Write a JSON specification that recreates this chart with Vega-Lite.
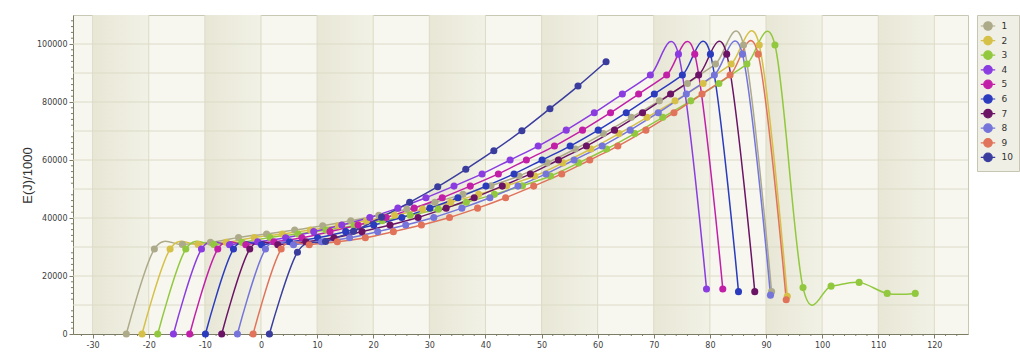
{
"$schema": "https://vega.github.io/schema/vega-lite/v6.json",
"width": 895, "height": 319,
"autosize": {"type": "none"},
"padding": {"left": 73, "top": 15, "right": 52, "bottom": 22},
"background": "#FFFFFF",
"config": {"view": {"stroke": "#C9C9B3", "fill": "#F7F7F0"}, "axis": {"labelOverlap": false}},
"datasets": {
"bands": [{"x":-30,"x2":-20},{"x":-10,"x2":0},{"x":10,"x2":20},{"x":30,"x2":40},{"x":50,"x2":60},{"x":70,"x2":80},{"x":90,"x2":100},{"x":110,"x2":120}],
"vgrid": [{"x":-30},{"x":-20},{"x":-10},{"x":0},{"x":10},{"x":20},{"x":30},{"x":40},{"x":50},{"x":60},{"x":70},{"x":80},{"x":90},{"x":100},{"x":110},{"x":120}],
"hgrid": [{"y":10000},{"y":20000},{"y":30000},{"y":40000},{"y":50000},{"y":60000},{"y":70000},{"y":80000},{"y":90000},{"y":100000}],
"xminor": [{"x":-32},{"x":-28},{"x":-26},{"x":-24},{"x":-22},{"x":-18},{"x":-16},{"x":-14},{"x":-12},{"x":-8},{"x":-6},{"x":-4},{"x":-2},{"x":2},{"x":4},{"x":6},{"x":8},{"x":12},{"x":14},{"x":16},{"x":18},{"x":22},{"x":24},{"x":26},{"x":28},{"x":32},{"x":34},{"x":36},{"x":38},{"x":42},{"x":44},{"x":46},{"x":48},{"x":52},{"x":54},{"x":56},{"x":58},{"x":62},{"x":64},{"x":66},{"x":68},{"x":72},{"x":74},{"x":76},{"x":78},{"x":82},{"x":84},{"x":86},{"x":88},{"x":92},{"x":94},{"x":96},{"x":98},{"x":102},{"x":104},{"x":106},{"x":108},{"x":112},{"x":114},{"x":116},{"x":118},{"x":122},{"x":124}],
"yminor": [{"y":2000},{"y":4000},{"y":6000},{"y":8000},{"y":12000},{"y":14000},{"y":16000},{"y":18000},{"y":22000},{"y":24000},{"y":26000},{"y":28000},{"y":32000},{"y":34000},{"y":36000},{"y":38000},{"y":42000},{"y":44000},{"y":46000},{"y":48000},{"y":52000},{"y":54000},{"y":56000},{"y":58000},{"y":62000},{"y":64000},{"y":66000},{"y":68000},{"y":72000},{"y":74000},{"y":76000},{"y":78000},{"y":82000},{"y":84000},{"y":86000},{"y":88000},{"y":92000},{"y":94000},{"y":96000},{"y":98000},{"y":102000},{"y":104000},{"y":106000},{"y":108000}],
"main": [
{"s":"1","x":-24,"y":0},{"s":"1","x":-19,"y":29300},{"s":"1","x":-14,"y":30900},{"s":"1","x":-9,"y":31600},{"s":"1","x":-4,"y":33300},{"s":"1","x":1,"y":34500},{"s":"1","x":6,"y":35850},{"s":"1","x":11,"y":37350},{"s":"1","x":16,"y":39050},{"s":"1","x":21,"y":40950},{"s":"1","x":26,"y":43050},{"s":"1","x":31,"y":45450},{"s":"1","x":36,"y":48150},{"s":"1","x":41,"y":51150},{"s":"1","x":46,"y":54500},{"s":"1","x":51,"y":59000},{"s":"1","x":56,"y":63800},{"s":"1","x":61,"y":69100},{"s":"1","x":66,"y":74700},{"s":"1","x":71,"y":80400},{"s":"1","x":76,"y":86400},{"s":"1","x":81,"y":93100},{"s":"1","x":86,"y":99650},{"s":"1","x":91,"y":14600},
{"s":"2","x":-21.2,"y":0},{"s":"2","x":-16.2,"y":29300},{"s":"2","x":-11.2,"y":30900},{"s":"2","x":-6.2,"y":31600},{"s":"2","x":-1.2,"y":33300},{"s":"2","x":3.8,"y":34500},{"s":"2","x":8.8,"y":35850},{"s":"2","x":13.8,"y":37350},{"s":"2","x":18.8,"y":39050},{"s":"2","x":23.8,"y":40950},{"s":"2","x":28.8,"y":43050},{"s":"2","x":33.8,"y":45450},{"s":"2","x":38.8,"y":48150},{"s":"2","x":43.8,"y":51150},{"s":"2","x":48.8,"y":54500},{"s":"2","x":53.8,"y":59000},{"s":"2","x":58.8,"y":63800},{"s":"2","x":63.8,"y":69100},{"s":"2","x":68.8,"y":74700},{"s":"2","x":73.8,"y":80400},{"s":"2","x":78.8,"y":86400},{"s":"2","x":83.8,"y":93100},{"s":"2","x":88.8,"y":99650},{"s":"2","x":93.8,"y":13000},
{"s":"3","x":-18.4,"y":0},{"s":"3","x":-13.4,"y":29300},{"s":"3","x":-8.4,"y":30900},{"s":"3","x":-3.4,"y":31600},{"s":"3","x":1.6,"y":33300},{"s":"3","x":6.6,"y":34500},{"s":"3","x":11.6,"y":35850},{"s":"3","x":16.6,"y":37350},{"s":"3","x":21.6,"y":39050},{"s":"3","x":26.6,"y":40950},{"s":"3","x":31.6,"y":43050},{"s":"3","x":36.6,"y":45450},{"s":"3","x":41.6,"y":48150},{"s":"3","x":46.6,"y":51150},{"s":"3","x":51.6,"y":54500},{"s":"3","x":56.6,"y":59000},{"s":"3","x":61.6,"y":63800},{"s":"3","x":66.6,"y":69100},{"s":"3","x":71.6,"y":74700},{"s":"3","x":76.6,"y":80400},{"s":"3","x":81.6,"y":86400},{"s":"3","x":86.6,"y":93100},{"s":"3","x":91.6,"y":99650},{"s":"3","x":96.6,"y":16000},{"s":"3","x":101.6,"y":16500},{"s":"3","x":106.6,"y":17800},{"s":"3","x":111.6,"y":14000},{"s":"3","x":116.6,"y":14000},
{"s":"4","x":-15.6,"y":0},{"s":"4","x":-10.6,"y":29300},{"s":"4","x":-5.6,"y":30800},{"s":"4","x":-0.6,"y":31800},{"s":"4","x":4.4,"y":33200},{"s":"4","x":9.4,"y":35300},{"s":"4","x":14.4,"y":37600},{"s":"4","x":19.4,"y":40200},{"s":"4","x":24.4,"y":43400},{"s":"4","x":29.4,"y":47000},{"s":"4","x":34.4,"y":51000},{"s":"4","x":39.4,"y":55200},{"s":"4","x":44.4,"y":60000},{"s":"4","x":49.4,"y":64800},{"s":"4","x":54.4,"y":70300},{"s":"4","x":59.4,"y":76300},{"s":"4","x":64.4,"y":82750},{"s":"4","x":69.4,"y":89300},{"s":"4","x":74.4,"y":96500},{"s":"4","x":79.4,"y":15500},
{"s":"5","x":-12.7,"y":0},{"s":"5","x":-7.7,"y":29300},{"s":"5","x":-2.7,"y":30800},{"s":"5","x":2.3,"y":31800},{"s":"5","x":7.3,"y":33200},{"s":"5","x":12.3,"y":35300},{"s":"5","x":17.3,"y":37600},{"s":"5","x":22.3,"y":40200},{"s":"5","x":27.3,"y":43400},{"s":"5","x":32.3,"y":47000},{"s":"5","x":37.3,"y":51000},{"s":"5","x":42.3,"y":55200},{"s":"5","x":47.3,"y":60000},{"s":"5","x":52.3,"y":64800},{"s":"5","x":57.3,"y":70300},{"s":"5","x":62.3,"y":76300},{"s":"5","x":67.3,"y":82750},{"s":"5","x":72.3,"y":89300},{"s":"5","x":77.3,"y":96500},{"s":"5","x":82.3,"y":15500},
{"s":"6","x":-9.9,"y":0},{"s":"6","x":-4.9,"y":29300},{"s":"6","x":0.1,"y":30800},{"s":"6","x":5.1,"y":31800},{"s":"6","x":10.1,"y":33200},{"s":"6","x":15.1,"y":35300},{"s":"6","x":20.1,"y":37600},{"s":"6","x":25.1,"y":40200},{"s":"6","x":30.1,"y":43400},{"s":"6","x":35.1,"y":47000},{"s":"6","x":40.1,"y":51000},{"s":"6","x":45.1,"y":55200},{"s":"6","x":50.1,"y":60000},{"s":"6","x":55.1,"y":64800},{"s":"6","x":60.1,"y":70300},{"s":"6","x":65.1,"y":76300},{"s":"6","x":70.1,"y":82750},{"s":"6","x":75.1,"y":89300},{"s":"6","x":80.1,"y":96500},{"s":"6","x":85.1,"y":14600},
{"s":"7","x":-7,"y":0},{"s":"7","x":-2,"y":29300},{"s":"7","x":3,"y":30800},{"s":"7","x":8,"y":31800},{"s":"7","x":13,"y":33200},{"s":"7","x":18,"y":35300},{"s":"7","x":23,"y":37600},{"s":"7","x":28,"y":40200},{"s":"7","x":33,"y":43400},{"s":"7","x":38,"y":47000},{"s":"7","x":43,"y":51000},{"s":"7","x":48,"y":55200},{"s":"7","x":53,"y":60000},{"s":"7","x":58,"y":64800},{"s":"7","x":63,"y":70300},{"s":"7","x":68,"y":76300},{"s":"7","x":73,"y":82750},{"s":"7","x":78,"y":89300},{"s":"7","x":83,"y":96500},{"s":"7","x":88,"y":14600},
{"s":"8","x":-4.2,"y":0},{"s":"8","x":0.8,"y":29300},{"s":"8","x":5.8,"y":30800},{"s":"8","x":10.8,"y":31800},{"s":"8","x":15.8,"y":33200},{"s":"8","x":20.8,"y":35300},{"s":"8","x":25.8,"y":37600},{"s":"8","x":30.8,"y":40200},{"s":"8","x":35.8,"y":43400},{"s":"8","x":40.8,"y":47000},{"s":"8","x":45.8,"y":51000},{"s":"8","x":50.8,"y":55200},{"s":"8","x":55.8,"y":60000},{"s":"8","x":60.8,"y":64800},{"s":"8","x":65.8,"y":70300},{"s":"8","x":70.8,"y":76300},{"s":"8","x":75.8,"y":82750},{"s":"8","x":80.8,"y":89300},{"s":"8","x":85.8,"y":96500},{"s":"8","x":90.8,"y":13400},
{"s":"9","x":-1.4,"y":0},{"s":"9","x":3.6,"y":29300},{"s":"9","x":8.6,"y":30800},{"s":"9","x":13.6,"y":31800},{"s":"9","x":18.6,"y":33200},{"s":"9","x":23.6,"y":35300},{"s":"9","x":28.6,"y":37600},{"s":"9","x":33.6,"y":40200},{"s":"9","x":38.6,"y":43400},{"s":"9","x":43.6,"y":47000},{"s":"9","x":48.6,"y":51000},{"s":"9","x":53.6,"y":55200},{"s":"9","x":58.6,"y":60000},{"s":"9","x":63.6,"y":64800},{"s":"9","x":68.6,"y":70300},{"s":"9","x":73.6,"y":76300},{"s":"9","x":78.6,"y":82750},{"s":"9","x":83.6,"y":89300},{"s":"9","x":88.6,"y":96500},{"s":"9","x":93.6,"y":11800},
{"s":"10","x":1.5,"y":0},{"s":"10","x":6.5,"y":28200},{"s":"10","x":11.5,"y":31900},{"s":"10","x":16.5,"y":35400},{"s":"10","x":21.5,"y":40300},{"s":"10","x":26.5,"y":45400},{"s":"10","x":31.5,"y":50800},{"s":"10","x":36.5,"y":56800},{"s":"10","x":41.5,"y":63200},{"s":"10","x":46.5,"y":70100},{"s":"10","x":51.5,"y":77700},{"s":"10","x":56.5,"y":85500},{"s":"10","x":61.5,"y":93900}
]
},
"layer": [
{"data": {"name": "bands"},
 "mark": {"type": "rect", "color": {"gradient": "linear", "x1": 0, "x2": 1, "y1": 0, "y2": 0, "stops": [{"offset": 0, "color": "#E8E7D6"}, {"offset": 1, "color": "#F1F1E6"}]}},
 "encoding": {
  "x": {"field": "x", "type": "quantitative", "scale": {"domain": [-33.5, 126], "nice": false, "zero": false},
   "axis": {"title": null, "grid": false,
    "values": [-30,-20,-10,0,10,20,30,40,50,60,70,80,90,100,110,120],
    "labelExpr": "'' + datum.value",
    "labelOverlap": false, "labelFlush": false, "labelFont": "DejaVu Sans", "labelFontSize": 8, "labelColor": "#404040", "labelPadding": 3,
    "tickSize": 4, "tickColor": "#7D7D65", "domainColor": "#7D7D65"}},
  "x2": {"field": "x2"}
 }},
{"data": {"name": "vgrid"},
 "mark": {"type": "rule", "color": "#DCDBC6", "strokeWidth": 1},
 "encoding": {"x": {"field": "x", "type": "quantitative", "scale": {"domain": [-33.5, 126], "nice": false, "zero": false}}}},
{"data": {"name": "hgrid"},
 "mark": {"type": "rule", "color": "#DCDBC6", "strokeWidth": 1},
 "encoding": {"y": {"field": "y", "type": "quantitative", "scale": {"domain": [0, 110000], "nice": false},
   "axis": {"title": "E(J)/1000", "grid": false,
    "values": [0,10000,20000,30000,40000,50000,60000,70000,80000,90000,100000],
    "labelExpr": "'' + datum.value",
    "labelOverlap": false, "labelFlush": false, "labelFont": "DejaVu Sans", "labelFontSize": 8, "labelColor": "#404040", "labelPadding": 2,
    "tickSize": 4, "tickColor": "#7D7D65", "domainColor": "#7D7D65",
    "titleFont": "Liberation Sans", "titleFontSize": 13, "titleFontWeight": "normal", "titleColor": "#333333",
    "titleX": -46, "titleY": 160, "titleAlign": "center", "titleBaseline": "middle"}}}},
{"data": {"name": "xminor"},
 "mark": {"type": "rule", "color": "#7D7D65", "strokeWidth": 1},
 "encoding": {"x": {"field": "x", "type": "quantitative", "scale": {"domain": [-33.5, 126], "nice": false, "zero": false}},
  "y": {"datum": 0, "type": "quantitative", "scale": {"domain": [0, 110000], "nice": false}},
  "y2": {"datum": -700}}},
{"data": {"name": "yminor"},
 "mark": {"type": "rule", "color": "#7D7D65", "strokeWidth": 1},
 "encoding": {"y": {"field": "y", "type": "quantitative", "scale": {"domain": [0, 110000], "nice": false}},
  "x": {"datum": -33.5, "type": "quantitative", "scale": {"domain": [-33.5, 126], "nice": false, "zero": false}},
  "x2": {"datum": -33.86}}},
{"data": {"name": "main"},
 "mark": {"type": "line", "interpolate": "cardinal", "strokeWidth": 1.5},
 "encoding": {
  "x": {"field": "x", "type": "quantitative", "scale": {"domain": [-33.5, 126], "nice": false, "zero": false}},
  "y": {"field": "y", "type": "quantitative", "scale": {"domain": [0, 110000], "nice": false}},
  "color": {"field": "s", "type": "nominal",
   "scale": {"domain": ["1","2","3","4","5","6","7","8","9","10"], "range": ["#ADAA8A","#D6C048","#92C83E","#8A3CE0","#C21FA8","#2B3BBE","#6B1466","#7474DA","#E0735A","#3A3D9E"]},
   "legend": {"title": null, "orient": "none", "legendX": 904, "legendY": 0,
    "symbolType": "M-1.7,0L-1,0M1,0L1.7,0M-1,0A1,1,0,1,1,1,0A1,1,0,1,1,-1,0Z",
    "symbolSize": 72, "symbolStrokeWidth": 1.2,
    "labelFont": "DejaVu Sans", "labelFontSize": 9, "labelColor": "#333333",
    "fillColor": "#EFEFE5", "strokeColor": "#C6C6B2", "padding": 6, "rowPadding": 0.6, "labelOffset": 8.5,
    "encode": {"symbols": {"update": {"fill": {"scale": "color", "field": "value"}, "stroke": {"scale": "color", "field": "value"}, "opacity": {"value": 1}}}}}}
 }},
{"data": {"name": "main"},
 "mark": {"type": "point", "filled": true, "size": 50, "opacity": 1},
 "encoding": {
  "x": {"field": "x", "type": "quantitative", "scale": {"domain": [-33.5, 126], "nice": false, "zero": false}},
  "y": {"field": "y", "type": "quantitative", "scale": {"domain": [0, 110000], "nice": false}},
  "color": {"field": "s", "type": "nominal",
   "scale": {"domain": ["1","2","3","4","5","6","7","8","9","10"], "range": ["#ADAA8A","#D6C048","#92C83E","#8A3CE0","#C21FA8","#2B3BBE","#6B1466","#7474DA","#E0735A","#3A3D9E"]}}
 }}
]
}
